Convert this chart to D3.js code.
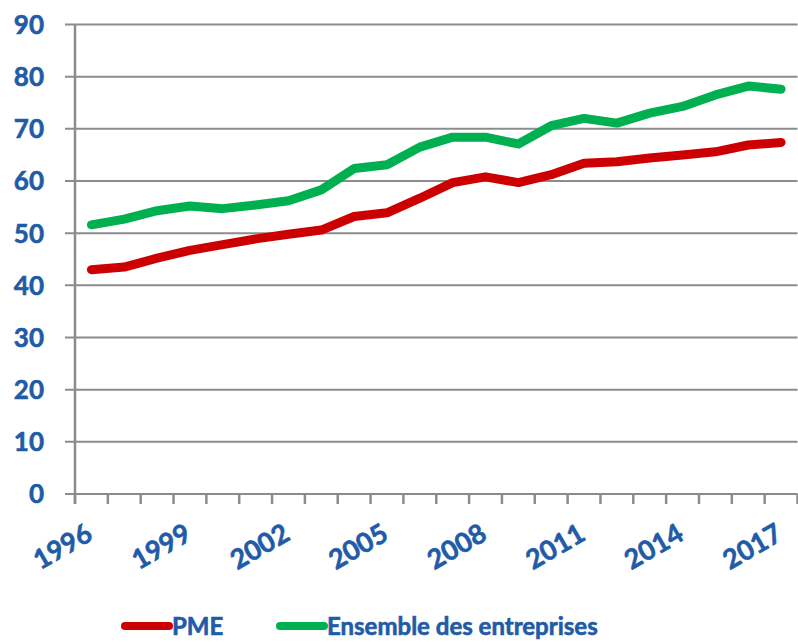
<!DOCTYPE html>
<html>
<head>
<meta charset="utf-8">
<script src="https://cdn.jsdelivr.net/npm/d3@7"></script>
<style>
  body { margin: 0; background: #fff; }
  text { font-family: Lato, "Open Sans", sans-serif; font-weight: bold; fill: #1f5ba7;
         stroke: #1f5ba7; stroke-width: 0.6px; }
</style>
</head>
<body>
<script>
const width = 798,
      height = 642;

const years = d3.range(1996, 2018);
const yearLabels = [1996, 1999, 2002, 2005, 2008, 2011, 2014, 2017];
const yTicks = [0, 10, 20, 30, 40, 50, 60, 70, 80, 90];

const pme = [43.0, 43.5, 45.2, 46.7, 47.8, 48.9, 49.8, 50.6, 53.2, 53.9, 56.7, 59.7,
             60.8, 59.7, 61.2, 63.4, 63.7, 64.4, 65.0, 65.6, 66.9, 67.4];
const ensemble = [51.6, 52.7, 54.3, 55.2, 54.7, 55.4, 56.2, 58.3, 62.4, 63.1, 66.5, 68.4,
                  68.4, 67.1, 70.6, 72.0, 71.1, 73.0, 74.3, 76.5, 78.2, 77.6];

const series = [
    {name: "PME", values: pme, color: "#cc0000"},
    {name: "Ensemble des entreprises", values: ensemble, color: "#00b050"}
];

const margin = {top: 24.5, right: 0.5, bottom: 148, left: 75};

const x = d3.scaleBand()
    .domain(years)
    .range([margin.left, width - margin.right]);

const y = d3.scaleLinear()
    .domain([0, 90])
    .range([height - margin.bottom, margin.top]);

const svg = d3.select("body").append("svg")
    .attr("width", width)
    .attr("height", height);

// horizontal gridlines, they stick out a bit left of the axis
svg.append("g")
    .selectAll("line")
    .data(yTicks)
    .enter().append("line")
    .attr("x1", margin.left - 10)
    .attr("x2", width - margin.right)
    .attr("y1", d => y(d))
    .attr("y2", d => y(d))
    .attr("stroke", "#8c8c8c")
    .attr("stroke-width", 2);

// y axis line
svg.append("line")
    .attr("x1", margin.left).attr("x2", margin.left)
    .attr("y1", y(90)).attr("y2", y(0) + 10)
    .attr("stroke", "#8c8c8c")
    .attr("stroke-width", 2.5);

// tick marks between categories
const tickPos = years.map(d => x(d)).concat([x(years[years.length - 1]) + x.bandwidth()]);
svg.append("g")
    .selectAll("line")
    .data(tickPos)
    .enter().append("line")
    .attr("x1", d => d).attr("x2", d => d)
    .attr("y1", y(0)).attr("y2", y(0) + 10)
    .attr("stroke", "#8c8c8c")
    .attr("stroke-width", 2.5);

svg.append("g")
    .selectAll("text")
    .data(yTicks)
    .enter().append("text")
    .attr("x", 44)
    .attr("y", d => y(d))
    .attr("dy", "0.36em")
    .attr("text-anchor", "end")
    .style("font-size", "26px")
    .text(d => d);

svg.append("g")
    .selectAll("text")
    .data(yearLabels)
    .enter().append("text")
    .attr("text-anchor", "end")
    .attr("transform", d => `translate(${x(d) + x.bandwidth() / 2 + 3},${y(0) + 45}) rotate(-30)`)
    .style("font-size", "27px")
    .text(d => d);

const line = d3.line()
    .x((d, i) => x(years[i]) + x.bandwidth() / 2)
    .y(d => y(d));

svg.append("g")
    .selectAll("path")
    .data(series)
    .enter().append("path")
    .attr("d", d => line(d.values))
    .attr("fill", "none")
    .attr("stroke", d => d.color)
    .attr("stroke-width", 9)
    .attr("stroke-linejoin", "round")
    .attr("stroke-linecap", "round");

// legend
const legendX = [125, 280];
const legend = svg.append("g")
    .selectAll("g")
    .data(series)
    .enter().append("g")
    .attr("transform", (d, i) => `translate(${legendX[i]},626)`);

legend.append("line")
    .attr("x1", 0).attr("x2", 44)
    .attr("stroke", d => d.color)
    .attr("stroke-width", 8)
    .attr("stroke-linecap", "round");

legend.append("text")
    .attr("x", 47)
    .attr("dy", "0.36em")
    .style("font-size", "24px")
    .text(d => d.name);
</script>
</body>
</html>
